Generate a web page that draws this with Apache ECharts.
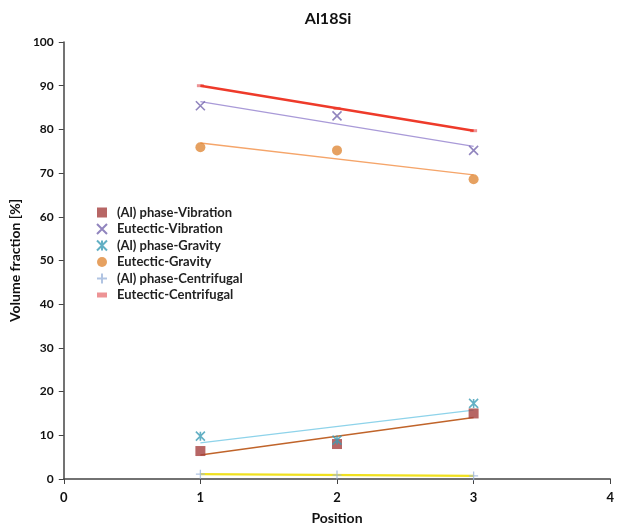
<!DOCTYPE html>
<html>
<head>
<meta charset="utf-8">
<script src="https://cdn.jsdelivr.net/npm/echarts@6/dist/echarts.min.js"></script>
<style>html,body{margin:0;padding:0;background:#fff}#c{width:617px;height:530px}</style>
</head>
<body>
<div id="c"></div>
<script>
const positions = [1, 2, 3];
const alVibration = [6.4, 8.0, 15.0];
const eutVibration = [85.4, 83.1, 75.2];
const alGravity = [9.8, 8.9, 17.3];
const eutGravity = [75.9, 75.2, 68.6];
const alCentrifugal = [1.1, 0.9, 0.7];
const eutCentrifugal = [90.0, 84.8, 79.7];
const seriesNames = ['(Al) phase-Vibration', 'Eutectic-Vibration', '(Al) phase-Gravity', 'Eutectic-Gravity', '(Al) phase-Centrifugal', 'Eutectic-Centrifugal'];

function trend(ys) {
  const n = ys.length;
  const mx = positions.reduce((a, b) => a + b, 0) / n;
  const my = ys.reduce((a, b) => a + b, 0) / n;
  let sxy = 0, sxx = 0;
  for (let i = 0; i < n; i++) { sxy += (positions[i] - mx) * (ys[i] - my); sxx += (positions[i] - mx) ** 2; }
  const b = sxy / sxx, a = my - b * mx;
  const x0 = positions[0], x1 = positions[n - 1];
  return [[x0, a + b * x0], [x1, a + b * x1]];
}
function pts(ys) { return positions.map((x, i) => [x, ys[i]]); }

const FONT = 'Lato';
const defs = [
  { data: alVibration, symbol: 'rect', size: 10, style: { color: '#A5403F' }, trendColor: '#C0642A', tw: 1.5, icon: 'rect' },
  { data: eutVibration, symbol: 'path://M0,0L10,10M10,0L0,10', size: 9, style: { color: 'rgba(0,0,0,0)', borderColor: '#7566AE', borderWidth: 1.6 }, trendColor: '#A99AD8', tw: 1.3, icon: 'path://M0,0L10,10M10,0L0,10' },
  { data: alGravity, symbol: 'path://M0,0L10,10M10,0L0,10M5,0L5,10', size: 9, style: { color: 'rgba(0,0,0,0)', borderColor: '#3C9CB5', borderWidth: 1.6 }, trendColor: '#8ED3EA', tw: 1.3, icon: 'path://M0,0L10,10M10,0L0,10M5,0L5,10' },
  { data: eutGravity, symbol: 'circle', size: 10, style: { color: '#E0893A' }, trendColor: '#F5A56A', tw: 1.3, icon: 'circle' },
  { data: alCentrifugal, symbol: 'path://M5,0L5,10M0,5L10,5', size: 9, style: { color: 'rgba(0,0,0,0)', borderColor: '#9DB5DB', borderWidth: 1.3 }, trendColor: '#F0E020', tw: 2.2, icon: 'path://M5,0L5,10M0,5L10,5' },
  { data: eutCentrifugal, symbol: 'rect', size: [7, 3], style: { color: '#E8787A' }, trendColor: '#EE3A2A', tw: 2.5, icon: 'path://M0,0L10,0L10,5L0,5Z' }
];

const series = [];
defs.forEach((d, i) => {
  series.push({
    type: 'line', data: trend(d.data), showSymbol: false, symbol: 'none', silent: true,
    lineStyle: { color: d.trendColor, width: d.tw }, z: 2, legendHoverLink: false
  });
});
defs.forEach((d, i) => {
  series.push({
    name: seriesNames[i], type: 'scatter', data: pts(d.data), symbol: d.symbol, symbolSize: d.size,
    itemStyle: d.style, z: i === 5 ? 1 : 3
  });
});

const chart = echarts.init(document.getElementById('c'));
chart.setOption({
  animation: false,
  title: { text: 'Al18Si', left: 323, top: 6, textAlign: 'center',
    textStyle: { fontFamily: FONT, fontWeight: 'bold', fontSize: 16, color: '#111' } },
  legend: {
    orient: 'vertical', left: 91, top: 201, itemGap: 3.5, itemWidth: 10, itemHeight: 10,
    symbolKeepAspect: true,
    data: seriesNames.map((n, i) => ({ name: n, icon: defs[i].icon })),
    textStyle: { fontFamily: FONT, fontWeight: 'bold', fontSize: 13, color: '#222', padding: [0, 0, 0, 5] }
  },
  grid: { left: 58, right: 5, top: 42, bottom: 49, containLabel: false },
  xAxis: {
    type: 'value', min: 0, max: 4, interval: 1,
    name: 'Position', nameLocation: 'middle', nameGap: 32,
    nameTextStyle: { fontFamily: FONT, fontWeight: 'bold', fontSize: 14, color: '#111' },
    axisLine: { lineStyle: { color: '#444', width: 1.5 } },
    axisTick: { show: true, inside: false, length: 5, lineStyle: { color: '#444' } },
    axisLabel: { fontFamily: FONT, fontWeight: 'bold', fontSize: 13, color: '#111', margin: 12 },
    splitLine: { show: false }
  },
  yAxis: {
    type: 'value', min: 0, max: 100, interval: 10,
    name: 'Volume fraction [%]', nameLocation: 'middle', nameGap: 36,
    nameTextStyle: { fontFamily: FONT, fontWeight: 'bold', fontSize: 14, color: '#111' },
    axisLine: { show: true, lineStyle: { color: '#444', width: 1.5 } },
    axisTick: { show: true, inside: false, length: 5, lineStyle: { color: '#444' } },
    axisLabel: { fontFamily: FONT, fontWeight: 'bold', fontSize: 12, color: '#111', margin: 10 },
    splitLine: { show: false }
  },
  series: series
});
</script>
</body>
</html>
